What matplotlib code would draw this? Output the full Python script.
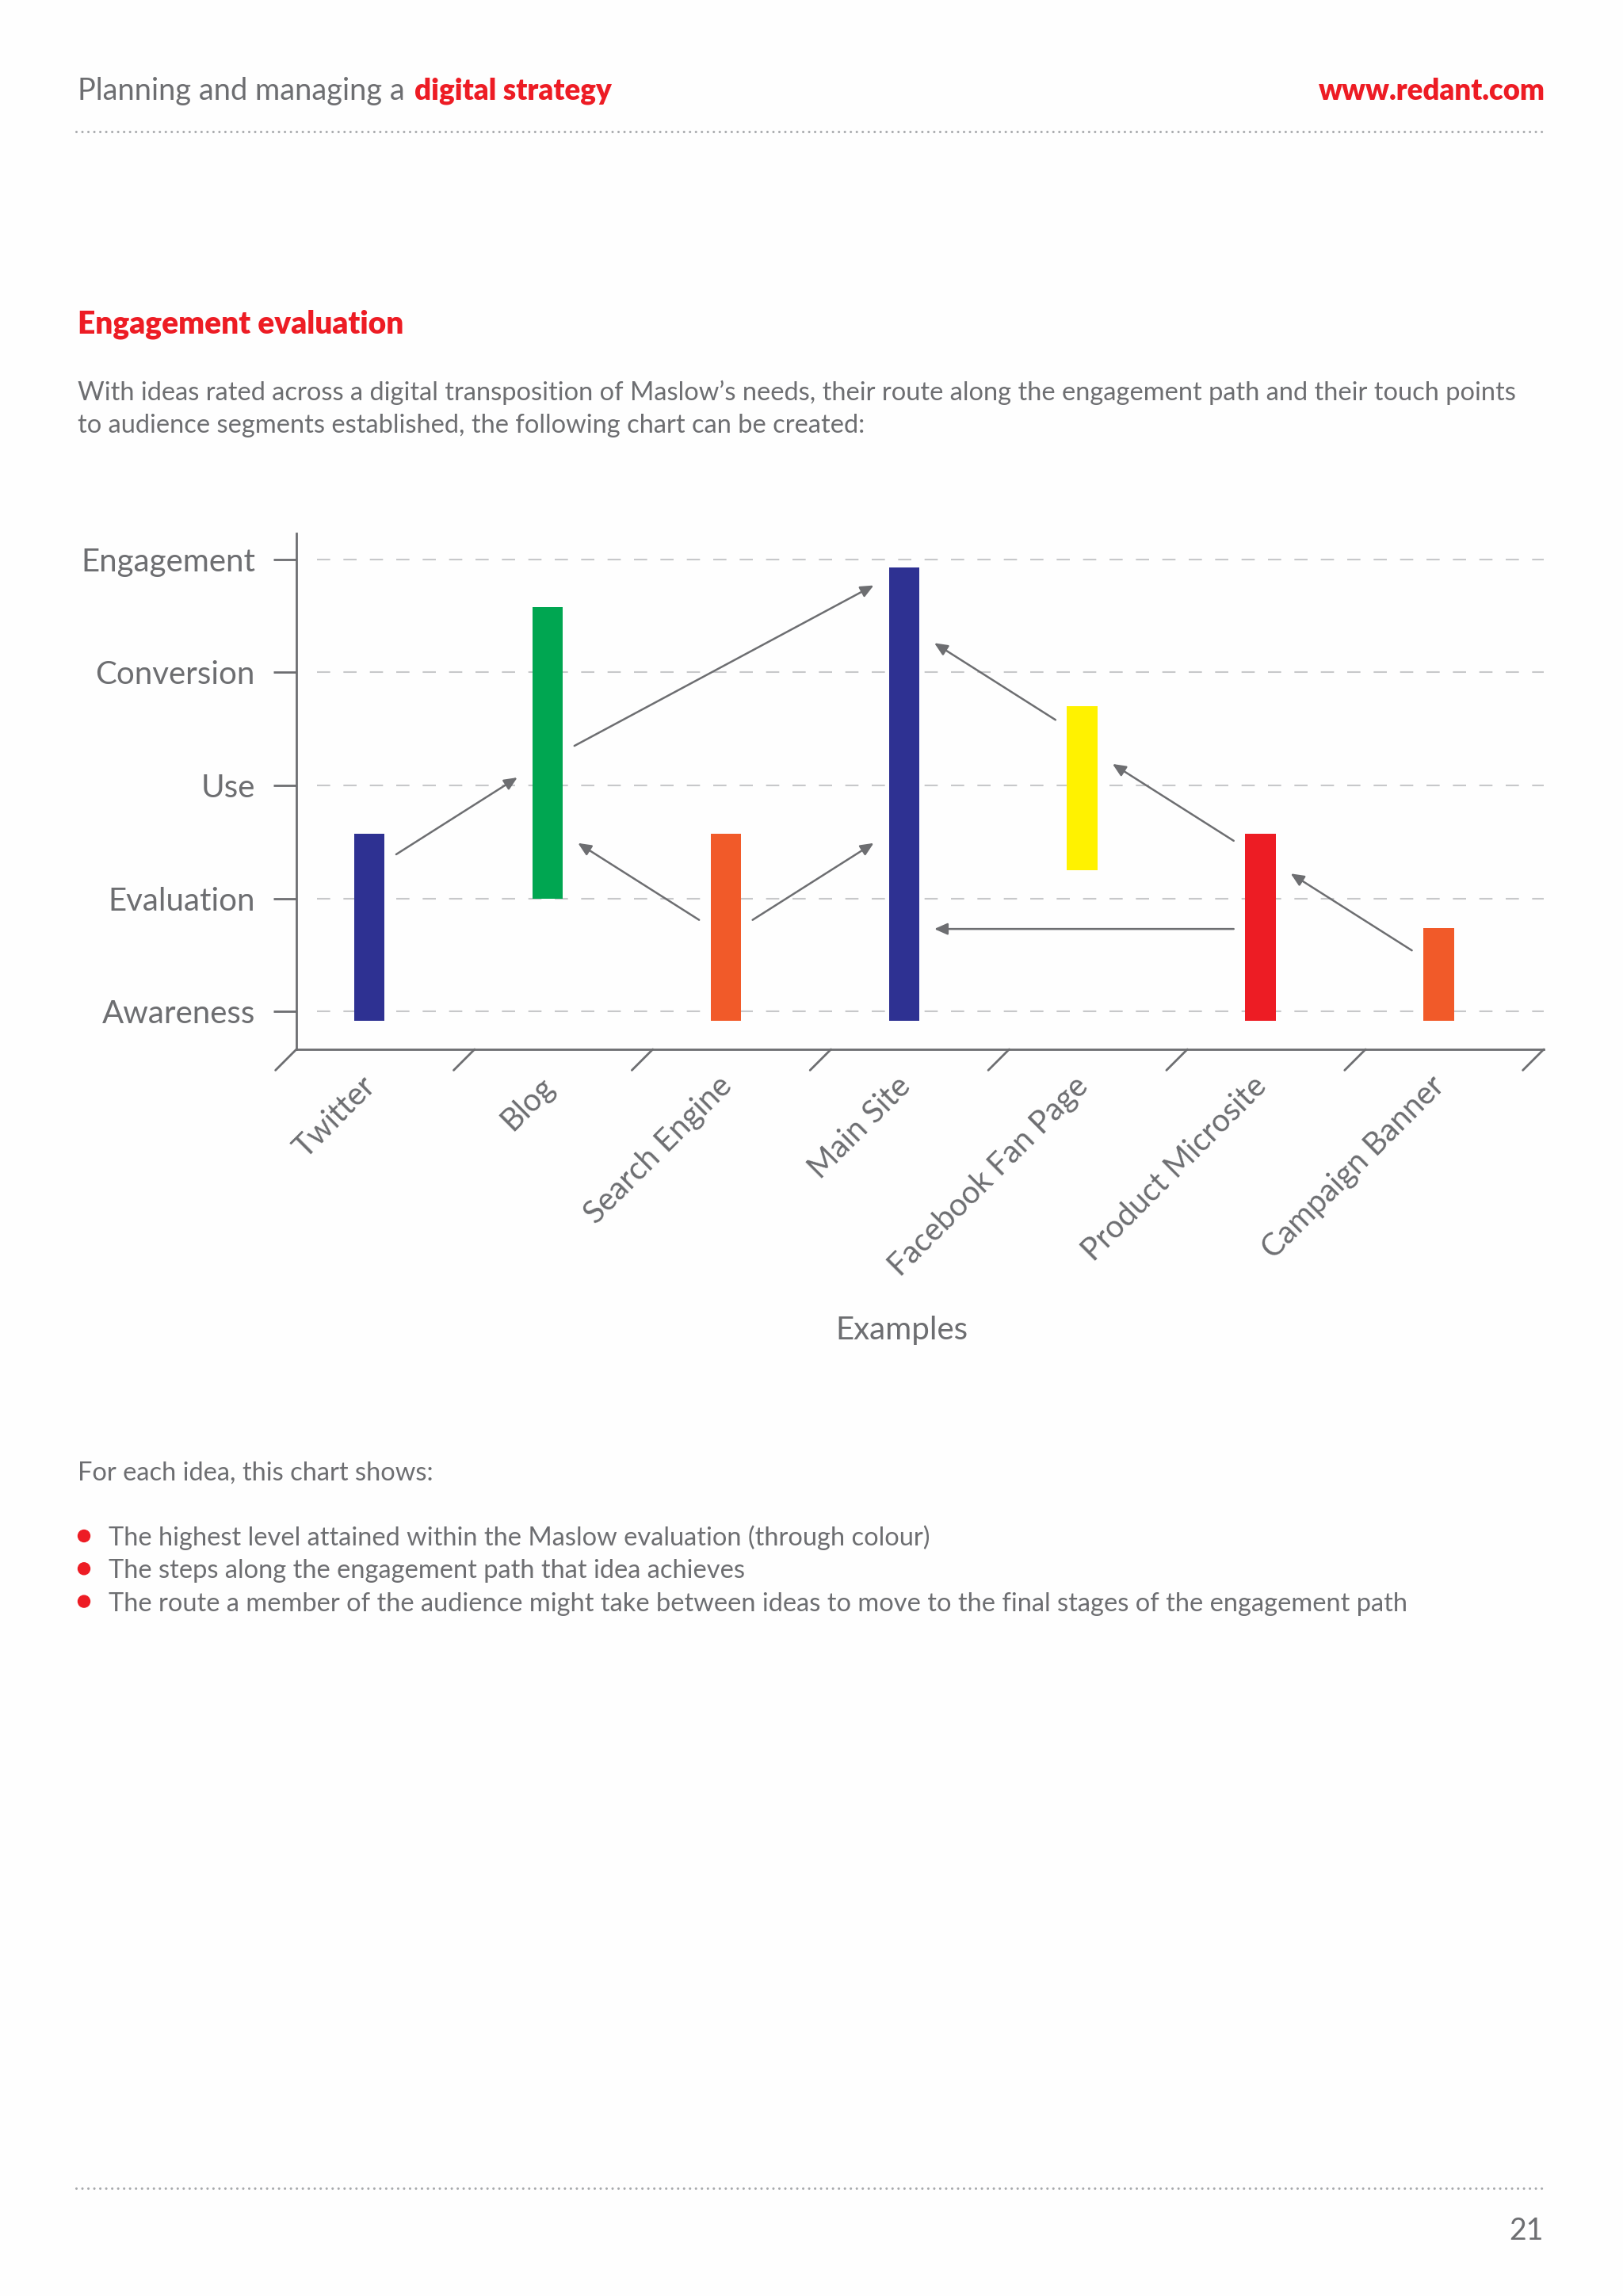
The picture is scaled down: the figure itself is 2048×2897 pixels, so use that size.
import matplotlib.pyplot as plt
import matplotlib.patches as mpatches
from matplotlib.lines import Line2D

# chart data
ideas = ["Twitter", "Blog", "Search Engine", "Main Site",
         "Facebook Fan Page", "Product Microsite", "Campaign Banner"]
levels = ["Awareness", "Evaluation", "Use", "Conversion", "Engagement"]
low = [-0.08, 1.0, -0.08, -0.08, 1.25, -0.08, -0.08]
high = [1.57, 3.58, 1.57, 3.93, 2.70, 1.57, 0.74]

# routes between ideas: from idea, to idea, start level, end level
route_from = [0, 2, 1, 2, 4, 5, 5, 6]
route_to = [1, 1, 3, 3, 3, 3, 4, 5]
route_start = [1.39, 0.81, 2.35, 0.81, 2.58, 0.73, 1.51, 0.54]
route_end = [2.07, 1.49, 3.77, 1.49, 3.26, 0.73, 2.19, 1.22]

bullets = [
    "The highest level attained within the Maslow evaluation (through colour)",
    "The steps along the engagement path that idea achieves",
    "The route a member of the audience might take between ideas to move to the final stages of the engagement path",
]
intro = ["With ideas rated across a digital transposition of Maslow\u2019s needs, their route along the engagement path and their touch points",
         "to audience segments established, the following chart can be created:"]

GRAY = '#6d6e71'
RED = '#ed1c24'
bar_colors = ['#2e3192', '#00a651', '#f15a29', '#2e3192', '#fff200', '#ed1c24', '#f15a29']

plt.rcParams['font.family'] = ['Lato', 'DejaVu Sans']

W, H = 2048, 2897
fig = plt.figure(figsize=(W / 100, H / 100), dpi=100)
fig.patch.set_facecolor('#fefefe')


def fx(x):
    return x / W


def fy(y):
    return 1 - y / H


# page furniture
fig.text(fx(98), fy(126), "Planning and managing a", fontsize=27.4, color=GRAY, va='baseline')
fig.text(fx(523), fy(126), "digital strategy", fontsize=26.5, color=RED, weight='heavy', va='baseline')
fig.text(fx(1950), fy(126), "www.redant.com", fontsize=26.4, color=RED, weight='heavy', va='baseline', ha='right')
for yy in (166, 2761):
    fig.add_artist(Line2D([fx(96), fx(1950)], [fy(yy), fy(yy)], color='#a7a9ac', lw=2.2,
                          linestyle=(0, (0.01, 2.45)), dash_capstyle='round'))
fig.text(fx(1948), fy(2826), "21", fontsize=27, color=GRAY, ha='right', va='baseline')

fig.text(fx(98), fy(420), "Engagement evaluation", fontsize=28, color=RED, weight='heavy', va='baseline')
for i, line in enumerate(intro):
    fig.text(fx(98), fy(505 + 41 * i), line, fontsize=23.5, color=GRAY, va='baseline')

fig.text(fx(98), fy(1868), "For each idea, this chart shows:", fontsize=23.5, color=GRAY, va='baseline')
for i, line in enumerate(bullets):
    base = 1950 + 41.3 * i
    fig.text(fx(137), fy(base), line, fontsize=23.5, color=GRAY, va='baseline')
    fig.add_artist(mpatches.Ellipse((fx(106), fy(base - 12)), 15 / W, 15 / H, color=RED))

# chart
ax = fig.add_axes([fx(374), fy(1324), (1948 - 374) / W, (1324 - 673) / H])
ax.patch.set_alpha(0)
ax.set_xlim(0, 7)
ax.set_ylim(-0.335, 4.23)

for side in ('top', 'right'):
    ax.spines[side].set_visible(False)
for side in ('left', 'bottom'):
    ax.spines[side].set_color(GRAY)
    ax.spines[side].set_linewidth(2)

ax.hlines(range(len(levels)), 0.115, 7, colors='#c7c8ca', linestyles=(0, (8, 8)), lw=1.5, zorder=0)

x_pos = [i + 0.41 for i in range(len(ideas))]
ax.bar(x_pos, [h - l for h, l in zip(high, low)], bottom=low, width=0.171,
       color=bar_colors, zorder=2)

for a, b, s, e in zip(route_from, route_to, route_start, route_end):
    sign = 1 if b > a else -1
    ax.annotate('', xy=(x_pos[b] - sign * 0.17, e), xytext=(x_pos[a] + sign * 0.15, s),
                arrowprops=dict(arrowstyle='-|>,head_length=0.45,head_width=0.2', mutation_scale=22,
                                lw=1.8, color=GRAY, shrinkA=0, shrinkB=0), zorder=3)

ax.set_yticks(range(len(levels)), labels=levels)
ax.tick_params(axis='y', length=21, width=2, color=GRAY, pad=16.5, labelsize=29, labelcolor=GRAY)
ax.set_xticks([])

# slanted ticks on the category boundaries
for b in range(len(ideas) + 1):
    ax.annotate('', xy=(b, 0), xycoords=ax.get_xaxis_transform(), xytext=(-19, -19),
                textcoords='offset points', annotation_clip=False,
                arrowprops=dict(arrowstyle='-', color=GRAY, lw=2, shrinkA=0, shrinkB=0))

for i, name in enumerate(ideas):
    ax.text(i + 0.5 - 0.14, -0.042, name, transform=ax.get_xaxis_transform(), rotation=45,
            rotation_mode='anchor', ha='right', va='top', fontsize=28.5, color=GRAY)

fig.text(fx(1138), fy(1690), "Examples", fontsize=29, color=GRAY, ha='center', va='baseline')

plt.savefig("out.png", dpi=100, facecolor=fig.get_facecolor())
